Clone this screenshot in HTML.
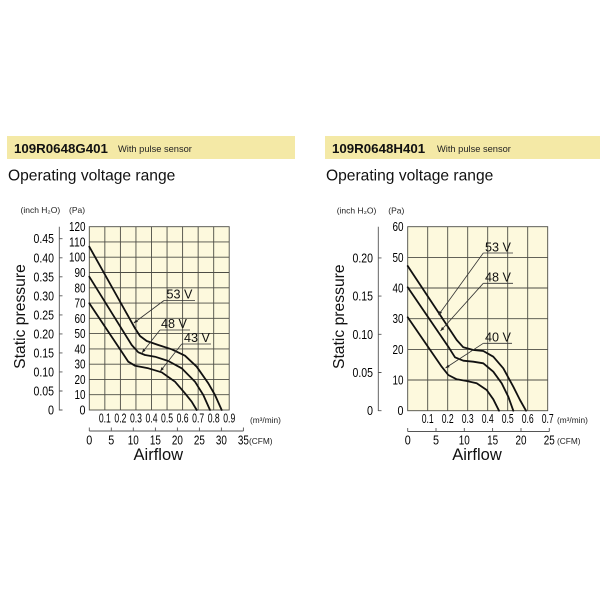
<!DOCTYPE html>
<html><head><meta charset="utf-8"><style>
html,body{margin:0;padding:0;background:#fff;}
svg{display:block;font-family:"Liberation Sans",sans-serif;}
</style></head><body>
<svg width="600" height="600" viewBox="0 0 600 600" xmlns="http://www.w3.org/2000/svg">
<defs>
<marker id="ar" viewBox="0 0 10 10" refX="10" refY="5" markerWidth="5" markerHeight="5" orient="auto">
<path d="M0,1 L10,5 L0,9 z" fill="#222"/>
</marker>
</defs>
<rect width="600" height="600" fill="#fff"/>

<!-- Headers -->
<rect x="7" y="136" width="288" height="23" fill="#f4e9a6"/>
<text x="14" y="153" font-size="13.3" font-weight="bold" fill="#111">109R0648G401</text>
<text x="118" y="152" font-size="9.3" fill="#222">With pulse sensor</text>
<text x="8" y="180.5" font-size="15.6" fill="#111">Operating voltage range</text>

<rect x="325" y="136" width="275" height="23" fill="#f4e9a6"/>
<text x="332" y="153" font-size="13.3" font-weight="bold" fill="#111">109R0648H401</text>
<text x="437" y="152" font-size="9.3" fill="#222">With pulse sensor</text>
<text x="326" y="180.5" font-size="15.6" fill="#111">Operating voltage range</text>

<!-- ============ LEFT CHART ============ -->
<text x="20.5" y="213" font-size="8.5" fill="#222">(inch H₂O)</text>
<text x="69" y="213" font-size="8.5" fill="#222">(Pa)</text>
<text transform="translate(25,316.5) rotate(-90)" text-anchor="middle" font-size="15.7" fill="#111">Static pressure</text>

<rect x="89.3" y="226.7" width="139.9" height="183.3" fill="#fdf9dd"/>
<g stroke="#4d4d45" stroke-width="0.9" fill="none">
<path d="M104.85,226.7V410M120.4,226.7V410M135.95,226.7V410M151.5,226.7V410M167.05,226.7V410M182.6,226.7V410M198.15,226.7V410M213.7,226.7V410"/>
<path d="M89.3,394.7H229.2M89.3,379.4H229.2M89.3,364.2H229.2M89.3,348.9H229.2M89.3,333.6H229.2M89.3,318.3H229.2M89.3,303.1H229.2M89.3,287.8H229.2M89.3,272.5H229.2M89.3,257.2H229.2M89.3,241.9H229.2"/>
<rect x="89.3" y="226.7" width="139.9" height="183.3"/>
</g>

<!-- left Pa labels -->
<g font-size="12.5" fill="#000" text-anchor="end">
<text x="85.5" y="414.5" textLength="6" lengthAdjust="spacingAndGlyphs">0</text>
<text x="85.5" y="399.2" textLength="11" lengthAdjust="spacingAndGlyphs">10</text>
<text x="85.5" y="383.9" textLength="11" lengthAdjust="spacingAndGlyphs">20</text>
<text x="85.5" y="368.7" textLength="11" lengthAdjust="spacingAndGlyphs">30</text>
<text x="85.5" y="353.4" textLength="11" lengthAdjust="spacingAndGlyphs">40</text>
<text x="85.5" y="338.1" textLength="11" lengthAdjust="spacingAndGlyphs">50</text>
<text x="85.5" y="322.8" textLength="11" lengthAdjust="spacingAndGlyphs">60</text>
<text x="85.5" y="307.6" textLength="11" lengthAdjust="spacingAndGlyphs">70</text>
<text x="85.5" y="292.3" textLength="11" lengthAdjust="spacingAndGlyphs">80</text>
<text x="85.5" y="277" textLength="11" lengthAdjust="spacingAndGlyphs">90</text>
<text x="85.5" y="261.7" textLength="16.5" lengthAdjust="spacingAndGlyphs">100</text>
<text x="85.5" y="246.4" textLength="16.5" lengthAdjust="spacingAndGlyphs">110</text>
<text x="85.5" y="231.2" textLength="16.5" lengthAdjust="spacingAndGlyphs">120</text>
</g>

<!-- left inch axis -->
<g stroke="#555" stroke-width="0.9" fill="none">
<path d="M59.3,226.7V410.5"/>
<path d="M59.3,410H62.5M59.3,391H62.5M59.3,371.9H62.5M59.3,352.9H62.5M59.3,333.9H62.5M59.3,314.9H62.5M59.3,295.8H62.5M59.3,276.8H62.5M59.3,257.8H62.5M59.3,238.7H62.5"/>
</g>
<g font-size="12.5" fill="#000" text-anchor="end">
<text x="54" y="414.5" textLength="6" lengthAdjust="spacingAndGlyphs">0</text>
<text x="54" y="395.5" textLength="20.5" lengthAdjust="spacingAndGlyphs">0.05</text>
<text x="54" y="376.4" textLength="20.5" lengthAdjust="spacingAndGlyphs">0.10</text>
<text x="54" y="357.4" textLength="20.5" lengthAdjust="spacingAndGlyphs">0.15</text>
<text x="54" y="338.4" textLength="20.5" lengthAdjust="spacingAndGlyphs">0.20</text>
<text x="54" y="319.4" textLength="20.5" lengthAdjust="spacingAndGlyphs">0.25</text>
<text x="54" y="300.3" textLength="20.5" lengthAdjust="spacingAndGlyphs">0.30</text>
<text x="54" y="281.3" textLength="20.5" lengthAdjust="spacingAndGlyphs">0.35</text>
<text x="54" y="262.3" textLength="20.5" lengthAdjust="spacingAndGlyphs">0.40</text>
<text x="54" y="243.2" textLength="20.5" lengthAdjust="spacingAndGlyphs">0.45</text>
</g>

<!-- left m3/min labels -->
<g font-size="12.5" fill="#000" text-anchor="middle">
<text x="104.85" y="422.5" textLength="12" lengthAdjust="spacingAndGlyphs">0.1</text>
<text x="120.4" y="422.5" textLength="12" lengthAdjust="spacingAndGlyphs">0.2</text>
<text x="135.95" y="422.5" textLength="12" lengthAdjust="spacingAndGlyphs">0.3</text>
<text x="151.5" y="422.5" textLength="12" lengthAdjust="spacingAndGlyphs">0.4</text>
<text x="167.05" y="422.5" textLength="12" lengthAdjust="spacingAndGlyphs">0.5</text>
<text x="182.6" y="422.5" textLength="12" lengthAdjust="spacingAndGlyphs">0.6</text>
<text x="198.15" y="422.5" textLength="12" lengthAdjust="spacingAndGlyphs">0.7</text>
<text x="213.7" y="422.5" textLength="12" lengthAdjust="spacingAndGlyphs">0.8</text>
<text x="229.25" y="422.5" textLength="12" lengthAdjust="spacingAndGlyphs">0.9</text>
</g>
<text x="250" y="423" font-size="8.3" fill="#222">(m³/min)</text>

<!-- left CFM axis -->
<g stroke="#555" stroke-width="0.9" fill="none">
<path d="M89.3,431H243.4"/>
<path d="M89.3,431V427.5M111.3,431V427.5M133.3,431V427.5M155.4,431V427.5M177.4,431V427.5M199.4,431V427.5M221.4,431V427.5M243.4,431V427.5"/>
</g>
<g font-size="12.5" fill="#000" text-anchor="middle">
<text x="89.3" y="444.5" textLength="6" lengthAdjust="spacingAndGlyphs">0</text>
<text x="111.3" y="444.5" textLength="6" lengthAdjust="spacingAndGlyphs">5</text>
<text x="133.3" y="444.5" textLength="11" lengthAdjust="spacingAndGlyphs">10</text>
<text x="155.4" y="444.5" textLength="11" lengthAdjust="spacingAndGlyphs">15</text>
<text x="177.4" y="444.5" textLength="11" lengthAdjust="spacingAndGlyphs">20</text>
<text x="199.4" y="444.5" textLength="11" lengthAdjust="spacingAndGlyphs">25</text>
<text x="221.4" y="444.5" textLength="11" lengthAdjust="spacingAndGlyphs">30</text>
<text x="243.4" y="444.5" textLength="11" lengthAdjust="spacingAndGlyphs">35</text>
</g>
<text x="249" y="444" font-size="8.3" fill="#222">(CFM)</text>
<text x="158.3" y="460" text-anchor="middle" font-size="16.5" fill="#111">Airflow</text>

<!-- left curves -->
<g stroke="#111" stroke-width="1.8" fill="none" stroke-linejoin="round" stroke-linecap="round">
<polyline points="89.3,246.7 135,328.3 140,336 146.7,341 158.3,345 171.7,349.3 185,355.7 196.7,366.7 208.3,383.3 215,395 221.7,410"/>
<polyline points="89.3,276.7 131.7,345 138.3,352.3 145,355 155,356.7 168.3,361 181.7,368.3 195,381.7 203.3,395 210,410"/>
<polyline points="89.3,303.3 121.7,351.7 128.3,361.7 135,365.7 148.3,368.3 161.7,372.3 175,381.7 185,393.3 191.7,401.7 196.7,410"/>
</g>
<!-- left labels -->
<g stroke="#333" stroke-width="0.8" fill="none">
<path d="M164,300.5H195"/>
<path d="M160,330H190"/>
<path d="M181.7,344H211"/>
<path d="M164,300.5L133.8,323" marker-end="url(#ar)"/>
<path d="M160,330L142,352.8" marker-end="url(#ar)"/>
<path d="M181.7,344L160.3,371.2" marker-end="url(#ar)"/>
</g>
<g font-size="12.6" fill="#111">
<text x="166.5" y="298.5">53 V</text>
<text x="161" y="328">48 V</text>
<text x="184" y="342">43 V</text>
</g>

<!-- ============ RIGHT CHART ============ -->
<text x="336.7" y="213.5" font-size="8.5" fill="#222">(inch H₂O)</text>
<text x="388.3" y="213.5" font-size="8.5" fill="#222">(Pa)</text>
<text transform="translate(344,316.7) rotate(-90)" text-anchor="middle" font-size="15.7" fill="#111">Static pressure</text>

<rect x="407.7" y="226.7" width="140" height="184" fill="#fdf9dd"/>
<g stroke="#4d4d45" stroke-width="0.9" fill="none">
<path d="M427.7,226.7V410.7M447.7,226.7V410.7M467.7,226.7V410.7M487.7,226.7V410.7M507.7,226.7V410.7M527.7,226.7V410.7"/>
<path d="M407.7,380H547.7M407.7,349.4H547.7M407.7,318.7H547.7M407.7,288H547.7M407.7,257.4H547.7"/>
<rect x="407.7" y="226.7" width="140" height="184"/>
</g>

<g font-size="12.5" fill="#000" text-anchor="end">
<text x="403.5" y="415.2" textLength="6" lengthAdjust="spacingAndGlyphs">0</text>
<text x="403.5" y="384.5" textLength="11" lengthAdjust="spacingAndGlyphs">10</text>
<text x="403.5" y="353.9" textLength="11" lengthAdjust="spacingAndGlyphs">20</text>
<text x="403.5" y="323.2" textLength="11" lengthAdjust="spacingAndGlyphs">30</text>
<text x="403.5" y="292.5" textLength="11" lengthAdjust="spacingAndGlyphs">40</text>
<text x="403.5" y="261.9" textLength="11" lengthAdjust="spacingAndGlyphs">50</text>
<text x="403.5" y="231.2" textLength="11" lengthAdjust="spacingAndGlyphs">60</text>
</g>

<g stroke="#555" stroke-width="0.9" fill="none">
<path d="M378.3,226.7V411"/>
<path d="M378.3,410.7H381.5M378.3,372.5H381.5M378.3,334.3H381.5M378.3,296.1H381.5M378.3,257.9H381.5"/>
</g>
<g font-size="12.5" fill="#000" text-anchor="end">
<text x="373" y="415.2" textLength="6" lengthAdjust="spacingAndGlyphs">0</text>
<text x="373" y="377" textLength="20.5" lengthAdjust="spacingAndGlyphs">0.05</text>
<text x="373" y="338.8" textLength="20.5" lengthAdjust="spacingAndGlyphs">0.10</text>
<text x="373" y="300.6" textLength="20.5" lengthAdjust="spacingAndGlyphs">0.15</text>
<text x="373" y="262.4" textLength="20.5" lengthAdjust="spacingAndGlyphs">0.20</text>
</g>

<g font-size="12.5" fill="#000" text-anchor="middle">
<text x="427.7" y="423" textLength="12" lengthAdjust="spacingAndGlyphs">0.1</text>
<text x="447.7" y="423" textLength="12" lengthAdjust="spacingAndGlyphs">0.2</text>
<text x="467.7" y="423" textLength="12" lengthAdjust="spacingAndGlyphs">0.3</text>
<text x="487.7" y="423" textLength="12" lengthAdjust="spacingAndGlyphs">0.4</text>
<text x="507.7" y="423" textLength="12" lengthAdjust="spacingAndGlyphs">0.5</text>
<text x="527.7" y="423" textLength="12" lengthAdjust="spacingAndGlyphs">0.6</text>
<text x="547.7" y="423" textLength="12" lengthAdjust="spacingAndGlyphs">0.7</text>
</g>
<text x="557" y="423" font-size="8.3" fill="#222">(m³/min)</text>

<g stroke="#555" stroke-width="0.9" fill="none">
<path d="M407.7,431.5H549.3"/>
<path d="M407.7,431.5V428M436,431.5V428M464.3,431.5V428M492.6,431.5V428M521,431.5V428M549.3,431.5V428"/>
</g>
<g font-size="12.5" fill="#000" text-anchor="middle">
<text x="407.7" y="444.5" textLength="6" lengthAdjust="spacingAndGlyphs">0</text>
<text x="436" y="444.5" textLength="6" lengthAdjust="spacingAndGlyphs">5</text>
<text x="464.3" y="444.5" textLength="11" lengthAdjust="spacingAndGlyphs">10</text>
<text x="492.6" y="444.5" textLength="11" lengthAdjust="spacingAndGlyphs">15</text>
<text x="521" y="444.5" textLength="11" lengthAdjust="spacingAndGlyphs">20</text>
<text x="549.3" y="444.5" textLength="11" lengthAdjust="spacingAndGlyphs">25</text>
</g>
<text x="557" y="444" font-size="8.3" fill="#222">(CFM)</text>
<text x="477" y="460" text-anchor="middle" font-size="16.5" fill="#111">Airflow</text>

<g stroke="#111" stroke-width="1.8" fill="none" stroke-linejoin="round" stroke-linecap="round">
<polyline points="407.7,266 456.7,340 463.3,347.3 473.3,350 483.3,351 493.3,356.7 503.3,368.3 513.3,386.7 520,400 526,410.7"/>
<polyline points="407.7,287.3 448.3,346.7 455,357.3 463.3,360.7 473.3,361.7 483.3,363.3 493.3,371.7 501.7,383.3 508.3,396.7 513.3,410.7"/>
<polyline points="407.7,317.3 441.7,366.7 448.3,375 456.7,379.3 466.7,381 476.7,383.3 486.7,390 493.3,399.3 499,410.7"/>
</g>
<g stroke="#333" stroke-width="0.8" fill="none">
<path d="M483.3,253H513"/>
<path d="M483.3,283.3H513"/>
<path d="M483.3,343.3H512"/>
<path d="M483.3,253L438.5,315" marker-end="url(#ar)"/>
<path d="M483.3,283.3L440.5,331" marker-end="url(#ar)"/>
<path d="M483.3,343.3L445.5,368" marker-end="url(#ar)"/>
</g>
<g font-size="12.6" fill="#111">
<text x="485" y="251.5">53 V</text>
<text x="485" y="281.5">48 V</text>
<text x="485" y="341.5">40 V</text>
</g>
</svg>
</body></html>
